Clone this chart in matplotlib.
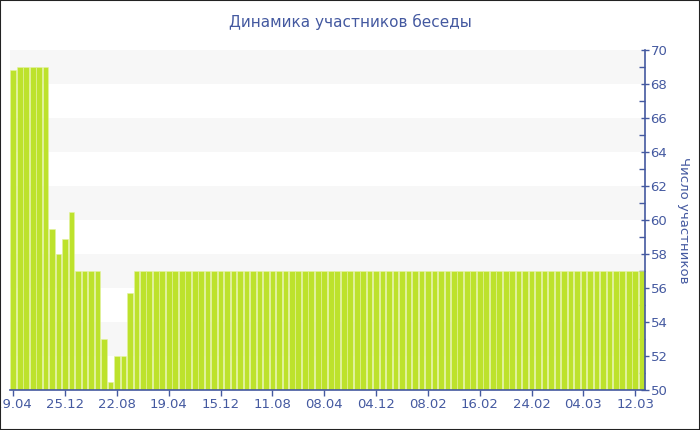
import numpy as np
import matplotlib.pyplot as plt
from matplotlib.ticker import MultipleLocator

# participants per period (98 bars)
head = [68.8, 69, 69, 69, 69, 69, 59.5, 58, 58.9, 60.5,
        57, 57, 57, 57, 53, 50.5, 52, 52, 55.7]
values = head + [57] * (98 - len(head))
tick_labels = ['29.04', '25.12', '22.08', '19.04', '15.12', '11.08', '08.04',
               '04.12', '08.02', '16.02', '24.02', '04.03', '12.03']
tick_step = 8

blue = '#4459a0'
bar_color = '#bde22c'

fig = plt.figure(figsize=(7, 4.3), dpi=100)
ax = fig.add_axes([10 / 700, 40 / 430, 635 / 700, 340 / 430])

x = np.arange(len(values))
ax.bar(x, np.array(values) - 50, bottom=50, width=0.88, color=bar_color,
       edgecolor='#e4f3a0', linewidth=0.4, zorder=2)

# alternating bands
for lo in range(52, 70, 4):
    ax.axhspan(lo, lo + 2, color='#f7f7f7', zorder=0, lw=0)

ax.set_xlim(-0.5, len(values) - 0.5)
ax.set_ylim(50, 70)

ax.set_xticks(x[::tick_step])
ax.set_xticklabels(tick_labels)
ax.yaxis.tick_right()
ax.yaxis.set_label_position('right')
ax.yaxis.set_major_locator(MultipleLocator(2))
ax.yaxis.set_minor_locator(MultipleLocator(1))

for s in ['top', 'left']:
    ax.spines[s].set_visible(False)
for s in ['bottom', 'right']:
    ax.spines[s].set_color(blue)
    ax.spines[s].set_linewidth(1.2)

ax.tick_params(axis='x', colors=blue, labelsize=9.5, length=4, width=1, pad=2)
ax.tick_params(axis='y', which='major', colors=blue, labelsize=9.5, length=6,
               width=1, direction='inout', pad=1)
ax.tick_params(axis='y', which='minor', colors=blue, length=4, width=1, direction='in')
ax.set_ylabel('Число участников', color=blue, fontsize=9.5, rotation=-90, labelpad=16)

fig.text(0.5, 1 - 22 / 430, 'Динамика участников беседы', color=blue,
         fontsize=11, ha='center', va='center')

fig.patches.append(plt.Rectangle((0, 0), 1, 1, transform=fig.transFigure,
                                 fill=False, edgecolor='#222222', lw=1.5))

fig.savefig('out.png', dpi=100)
